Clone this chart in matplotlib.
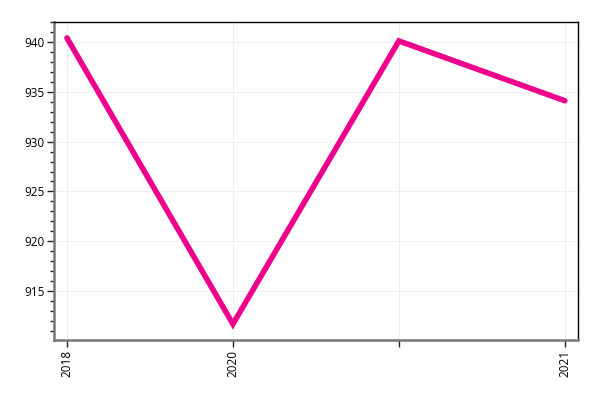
import matplotlib
matplotlib.use("Agg")
import matplotlib.pyplot as plt
from matplotlib.ticker import MultipleLocator

plt.rcParams['font.family'] = ['Open Sans', 'DejaVu Sans']

# data
x_labels = ['2018', '2020', '', '2021']
values = [940.4, 911.7, 940.1, 934.1]

fig = plt.figure(figsize=(6, 4), dpi=100)
ax = fig.add_axes([0.09, 0.15, 0.873, 0.795])

xs = list(range(len(values)))
ax.plot(xs, values, color='#ec008c', linewidth=4.0, solid_capstyle='round', solid_joinstyle='miter', zorder=3)

ax.set_xlim(-0.078, 3.078)
ax.set_ylim(910.1, 942.0)
ax.set_xticks(xs)
ax.set_xticklabels(x_labels, rotation=90, fontsize=8.5)
ax.yaxis.set_major_locator(MultipleLocator(5))
ax.yaxis.set_minor_locator(MultipleLocator(1))
ax.tick_params(axis='y', labelsize=8.5, length=5, width=1, color='#222222', pad=2)
ax.tick_params(axis='y', which='minor', length=3, width=1, color='#222222')
ax.tick_params(axis='x', length=5, width=1, color='#222222', pad=2)

ax.grid(True, color='#eeeeee', linewidth=0.8, zorder=0)
ax.set_axisbelow(True)

for side in ['left', 'bottom']:
    ax.spines[side].set_color('#777777')
    ax.spines[side].set_linewidth(1.8)
for side in ['top', 'right']:
    ax.spines[side].set_color('black')
    ax.spines[side].set_linewidth(1.0)

fig.savefig('out.png', dpi=100)
